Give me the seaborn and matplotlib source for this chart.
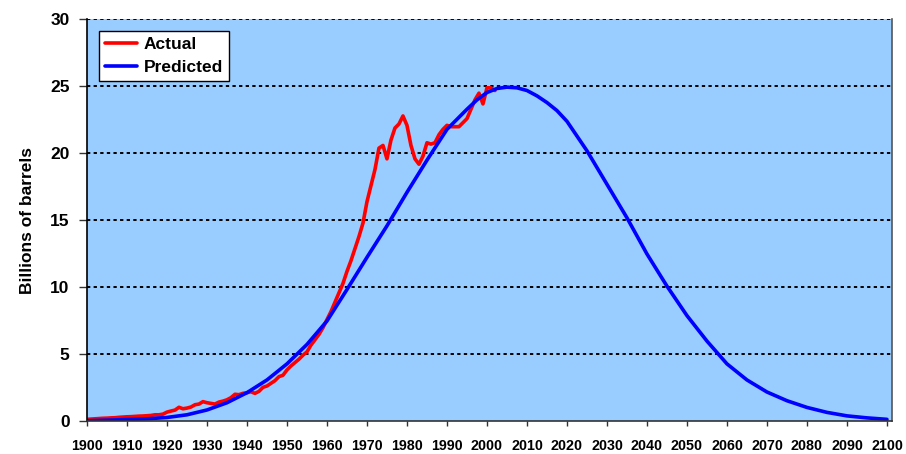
import numpy as np
import pandas as pd
import matplotlib
matplotlib.use("Agg")
import matplotlib.pyplot as plt
import seaborn as sns

# actual production, one value per year (1900-2002)
actual_years = list(range(1900, 2003))
actual_values = [
    0.16, 0.18, 0.20, 0.22, 0.24, 0.25, 0.27, 0.28, 0.31, 0.33,
    0.35, 0.36, 0.38, 0.40, 0.41, 0.43, 0.45, 0.50, 0.50, 0.55,
    0.70, 0.78, 0.85, 1.06, 0.95, 1.00, 1.08, 1.25, 1.30, 1.48,
    1.40, 1.35, 1.30, 1.45, 1.52, 1.62, 1.78, 2.03, 2.00, 2.10,
    2.15, 2.22, 2.10, 2.25, 2.55, 2.65, 2.85, 3.05, 3.35, 3.45,
    3.85, 4.15, 4.40, 4.65, 4.95, 5.20, 5.70, 6.10, 6.50, 7.00,
    7.60, 8.20, 8.90, 9.60, 10.3, 11.2, 12.0, 12.9, 13.8, 14.8,
    16.4, 17.6, 18.8, 20.4, 20.6, 19.6, 21.0, 21.9, 22.2, 22.8,
    22.1, 20.6, 19.6, 19.2, 19.8, 20.8, 20.7, 20.8, 21.4, 21.8,
    22.1, 22.0, 22.0, 22.0, 22.3, 22.6, 23.3, 24.0, 24.5, 23.7,
    24.9, 24.9, 24.7,
]

# predicted curve (1900-2100)
predicted_years = [
    1900, 1905, 1910, 1915, 1920, 1925, 1930, 1935, 1940, 1945,
    1950, 1955, 1960, 1965, 1970, 1975, 1980, 1985, 1990, 1995,
    1997.5, 2000, 2002.5, 2005, 2007.5, 2010, 2012.5, 2015, 2017.5, 2020,
    2025, 2030, 2035, 2040, 2045, 2050, 2055, 2060, 2065, 2070,
    2075, 2080, 2085, 2090, 2095, 2100,
]
predicted_values = [
    0.06, 0.10, 0.15, 0.20, 0.30, 0.50, 0.86, 1.40, 2.15, 3.10,
    4.30, 5.75, 7.50, 9.85, 12.25, 14.6, 17.1, 19.5, 21.8, 23.3,
    24.0, 24.55, 24.85, 24.95, 24.9, 24.7, 24.3, 23.8, 23.2, 22.4,
    20.2, 17.7, 15.2, 12.5, 10.1, 7.90, 6.00, 4.30, 3.10, 2.20,
    1.55, 1.05, 0.68, 0.42, 0.27, 0.16,
]

x_ticks = list(range(1900, 2101, 10))
y_ticks = [0, 5, 10, 15, 20, 25, 30]

df = pd.concat([
    pd.DataFrame({"year": actual_years, "value": actual_values, "series": "Actual"}),
    pd.DataFrame({"year": predicted_years, "value": predicted_values, "series": "Predicted"}),
])

sns.set_style("white")
plt.rcParams["font.family"] = ["Liberation Sans", "DejaVu Sans"]
plt.rcParams["font.weight"] = "bold"
plt.rcParams["text.color"] = "black"
plt.rcParams["xtick.color"] = "black"
plt.rcParams["ytick.color"] = "black"
plt.rcParams["axes.labelcolor"] = "black"

fig = plt.figure(figsize=(9.06, 4.54), dpi=100)
ax = fig.add_axes([0.096, 0.0716, 0.8885, 0.8855])
ax.set_facecolor("#99CCFF")

sns.lineplot(data=df, x="year", y="value", hue="series",
             palette={"Actual": "#FF0000", "Predicted": "#0000FF"},
             linewidth=2.6, ax=ax, legend=True)

ax.set_xlim(1900, 2101.25)
ax.set_ylim(0, 30)
ax.set_xticks(x_ticks)
ax.set_yticks(y_ticks)
ax.set_xticklabels([str(t) for t in x_ticks], fontsize=10.3, fontweight="bold")
ax.set_yticklabels([str(t) for t in y_ticks], fontsize=12.5, fontweight="bold")
ax.set_xlabel("")
ax.set_ylabel("Billions of barrels", fontsize=12.5, fontweight="bold", labelpad=11)

# dotted horizontal gridlines
for y in y_ticks[1:]:
    ax.axhline(y, color="black", linewidth=1.4, linestyle=(0, (1.7, 1.7)), zorder=1)

ax.spines["top"].set_visible(False)
ax.spines["left"].set_color("black")
ax.spines["left"].set_linewidth(1.2)
ax.spines["bottom"].set_color("#333333")
ax.spines["bottom"].set_linewidth(1.2)
ax.spines["right"].set_color("#555555")
ax.spines["right"].set_linewidth(1.2)
ax.tick_params(axis="y", direction="out", length=5.5, width=1, color="#333333", pad=7, left=True)
ax.tick_params(axis="x", direction="out", length=3.6, width=1, color="#333333", pad=9, bottom=True)

leg = ax.legend(loc="upper left", bbox_to_anchor=(0.0025, 0.9975), frameon=True, fancybox=False,
                framealpha=1, edgecolor="black", handlelength=1.8, handletextpad=0.4,
                borderpad=0.35, labelspacing=0.45, borderaxespad=0.6,
                prop={"weight": "bold", "size": 12.5})
leg.get_frame().set_linewidth(1.0)
leg.get_frame().set_facecolor("white")

fig.savefig("out.png", dpi=100)
